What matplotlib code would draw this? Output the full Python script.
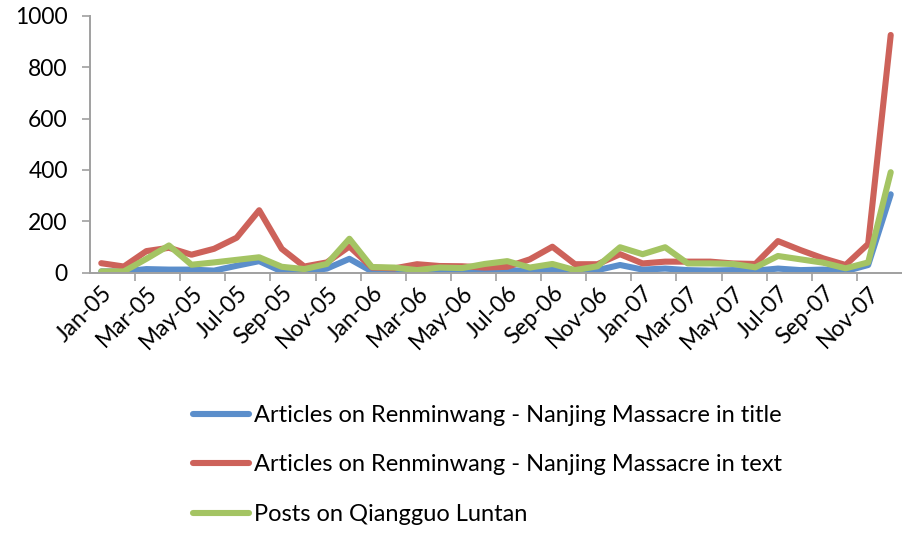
import matplotlib
matplotlib.use("Agg")
import matplotlib.pyplot as plt
import numpy as np

months = ["Jan", "Feb", "Mar", "Apr", "May", "Jun", "Jul", "Aug", "Sep", "Oct", "Nov", "Dec"]
years = ["05", "06", "07"]
categories = [f"{m}-{y}" for y in years for m in months]

title_articles = [5, 5, 14, 12, 12, 8, 27, 45, 5, 5, 16, 54,
                  5, 4, 4, 8, 8, 8, 10, 7, 13, 7, 10, 30,
                  12, 16, 10, 8, 10, 8, 16, 10, 12, 6, 30, 305]
text_articles = [37, 24, 84, 97, 70, 93, 136, 243, 93, 24, 40, 102,
                 20, 17, 33, 26, 25, 20, 23, 52, 101, 33, 33, 72,
                 36, 43, 43, 43, 36, 34, 123, 88, 56, 30, 112, 925]
qiangguo_posts = [5, 5, 54, 106, 31, 40, 50, 60, 23, 14, 34, 132,
                  22, 20, 10, 20, 18, 34, 45, 20, 34, 10, 25, 99,
                  72, 99, 36, 36, 34, 21, 65, 52, 39, 17, 40, 391]

series_labels = ["Articles on Renminwang - Nanjing Massacre in title",
                 "Articles on Renminwang - Nanjing Massacre in text",
                 "Posts on Qiangguo Luntan"]
colors = ["#5b8ecb", "#cd625a", "#a4c463"]

plt.rcParams['font.family'] = ['Lato', 'DejaVu Sans']

fig = plt.figure(figsize=(9.03, 5.33), dpi=100)
ax = fig.add_axes([90 / 903, 1 - 272.7 / 533, 812 / 903, 257 / 533])

x = np.arange(len(categories))
for vals, lab, c in zip([title_articles, text_articles, qiangguo_posts], series_labels, colors):
    ax.plot(x, vals, color=c, lw=4.4, label=lab, solid_joinstyle='round', solid_capstyle='round')

ax.set_xlim(-0.5, len(categories) - 0.5)
ax.set_ylim(0, 1000)
ax.set_yticks(np.arange(0, 1001, 200))
ax.tick_params(axis='y', labelsize=16.5, length=6, width=1.2, color='#a0a0a0', pad=10, labelcolor='black')

ax.set_xticks(x[::2])
ax.set_xticklabels(categories[::2], rotation=45, ha='right', rotation_mode='anchor', fontsize=16.5)
for lbl in ax.get_xticklabels():
    lbl.set_x(lbl.get_position()[0])
ax.tick_params(axis='x', which='major', length=0, pad=7)
ax.set_xticks(np.arange(-0.5, len(categories) - 0.5, 2)[1:], minor=True)
ax.tick_params(axis='x', which='minor', length=6, width=1.2, color='#a0a0a0')

for s in ['top', 'right']:
    ax.spines[s].set_visible(False)
for s in ['left', 'bottom']:
    ax.spines[s].set_color('#a0a0a0')
    ax.spines[s].set_linewidth(1.4)

leg = fig.legend(loc='center left', bbox_to_anchor=(0.2137, 1 - 465 / 533), frameon=False,
                 fontsize=17, handlelength=2.37, handletextpad=0.2, labelspacing=1.2,
                 borderpad=0, borderaxespad=0)

fig.savefig("out.png", dpi=100)
